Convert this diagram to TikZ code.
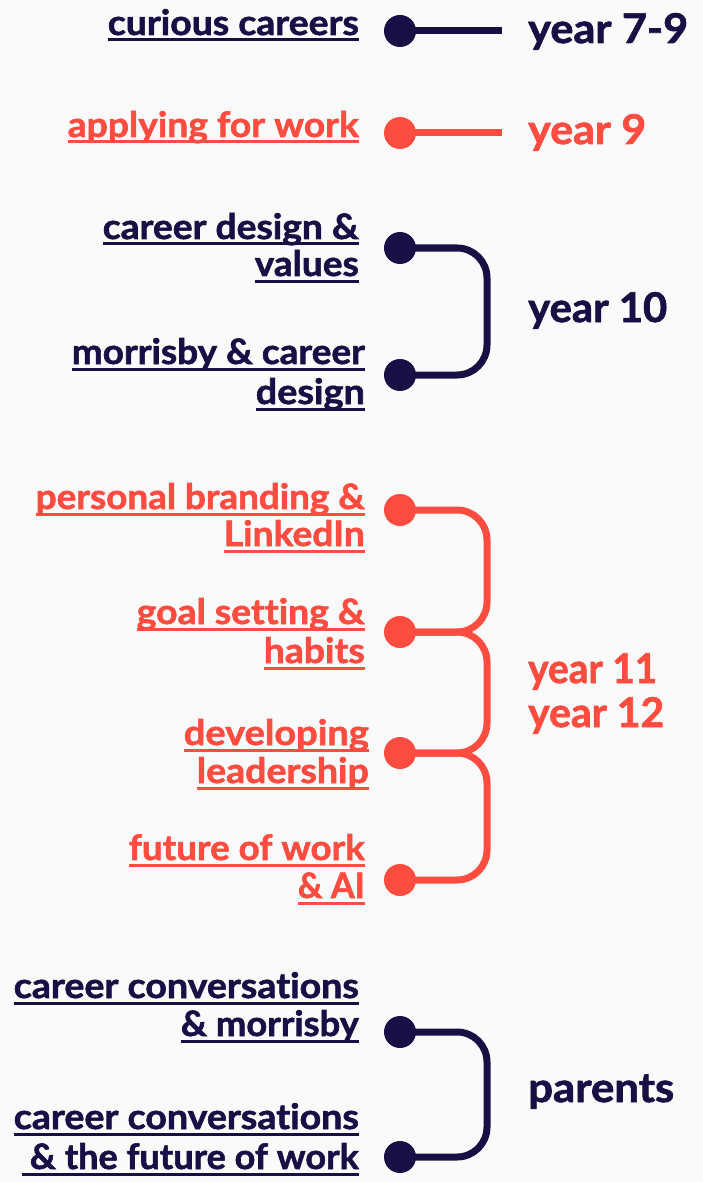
\documentclass[tikz,border=0pt]{standalone}
\usepackage{fontspec}
\setmainfont{Lato}[Ligatures=NoCommon, BoldFeatures={FakeBold=1.6}]
\usepackage{graphicx}
\definecolor{navy}{HTML}{1A0F45}
\definecolor{coral}{HTML}{FF4C40}
\definecolor{bg}{HTML}{FAFAFA}
\tikzset{
  lab/.style={anchor=base east, inner sep=0pt, font=\fontsize{35}{38}\selectfont\bfseries},
  big/.style={anchor=base west, inner sep=0pt, font=\fontsize{41}{44}\selectfont\bfseries},
  ul/.style={line width=3pt},
  conn/.style={line width=7pt, rounded corners=30pt},
  dot/.style={circle, fill, inner sep=0pt, minimum size=32pt},
}
\newcommand\lab[5]{%
  \node[lab] (#1) at (#2,#3) {\resizebox{#4pt}{\height}{#5}};
  \draw[ul] ([yshift=-5pt]#1.base west) -- ([yshift=-5pt]#1.base east);}
\newcommand\blab[5]{\node[big] (#1) at (#2,#3) {\resizebox{#4pt}{\height}{#5}};}
\begin{document}
\begin{tikzpicture}[x=1pt,y=-1pt]
\fill[bg] (0,0) rectangle (703,1182);
\useasboundingbox (0,0) rectangle (703,1182);
\coordinate (vx) at (487,0);
% ---------- year 7-9
\begin{scope}[navy]
\node[dot] (d1) at (400,31) {};
\coordinate (e1) at (502,31);
\draw[conn] (d1.center) -- (e1);
\lab{t1}{359}{35}{251}{curious careers}
\blab{y1}{528}{43}{160}{year 7-9}
\end{scope}
% ---------- year 9
\begin{scope}[coral]
\node[dot] (d2) at (400,133) {};
\coordinate (e2) at (502,133);
\draw[conn] (d2.center) -- (e2);
\lab{t2}{359}{137}{291}{applying for work}
\blab{y2}{528}{144}{118}{year 9}
\end{scope}
% ---------- year 10
\begin{scope}[navy]
\node[dot] (d3) at (400,248) {};
\node[dot] (d4) at (400,375) {};
\draw[conn] (d3.center) -- (d3 -| vx) -- (d4 -| vx) -- (d4.center);
\lab{t3a}{359}{239}{256}{career design \&}
\lab{t3b}{359}{276}{104}{values}
\lab{t4a}{365}{364}{293}{morrisby \& career}
\lab{t4b}{365}{404}{109}{design}
\blab{y3}{528}{322}{139}{year 10}
\end{scope}
% ---------- year 11 / 12
\begin{scope}[coral]
\node[dot] (d5) at (400,510) {};
\node[dot] (d6) at (400,632) {};
\node[dot] (d7) at (400,753) {};
\node[dot] (d8) at (400,880) {};
\draw[conn] (d5.center) -- (d5 -| vx) -- (d6 -| vx) -- (d6.center);
\draw[conn] (d6.center) -- (d6 -| vx) -- (d7 -| vx) -- (d7.center);
\draw[conn] (d7.center) -- (d7 -| vx) -- (d8 -| vx) -- (d8.center);
\lab{t5a}{365}{509}{329}{personal branding \&}
\lab{t5b}{365}{546}{141}{LinkedIn}
\lab{t6a}{365}{624}{228}{goal setting \&}
\lab{t6b}{365}{663}{101}{habits}
\lab{t7a}{369}{745}{185}{developing}
\lab{t7b}{369}{783}{172}{leadership}
\lab{t8a}{365}{860}{236}{future of work}
\lab{t8b}{365}{898}{67}{\& AI}
\blab{y5}{528}{683}{129}{year 11}
\blab{y6}{528}{727}{136}{year 12}
\end{scope}
% ---------- parents
\begin{scope}[navy]
\node[dot] (d9) at (400,1032) {};
\node[dot] (d10) at (400,1157) {};
\draw[conn] (d9.center) -- (d9 -| vx) -- (d10 -| vx) -- (d10.center);
\lab{t9a}{359}{998}{345}{career conversations}
\lab{t9b}{359}{1036}{178}{\& morrisby}
\lab{t10a}{359}{1129}{345}{career conversations}
\node[lab] (t10b) at (359,1169) {\resizebox{329pt}{\height}{\& the future of work}};
\coordinate (u10) at (22,1174);
\draw[ul] (u10) -- ([yshift=-5pt]t10b.base east);
\blab{y7}{528}{1102}{146}{parents}
\end{scope}
\end{tikzpicture}
\end{document}
